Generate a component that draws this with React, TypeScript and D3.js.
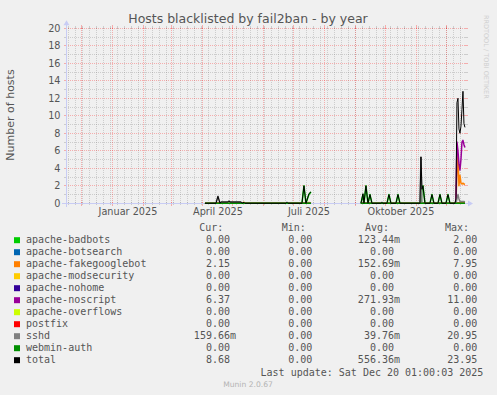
import React from 'react';
import * as d3 from 'd3';

const W = 497;
const H = 395;

const dates = [
  '2025-04-03', '2025-04-14', '2025-04-16', '2025-04-18', '2025-04-19', '2025-04-26', '2025-04-27', '2025-04-28',
  '2025-05-09', '2025-05-10', '2025-05-12', '2025-05-13', '2025-06-23', '2025-06-24', '2025-06-25', '2025-07-09',
  '2025-07-11', '2025-07-13', '2025-07-16', '2025-07-18', '2025-08-10', '2025-09-06', '2025-09-08', '2025-09-09',
  '2025-09-11', '2025-09-13', '2025-09-15', '2025-09-17', '2025-09-26', '2025-09-27', '2025-09-28', '2025-10-02',
  '2025-10-04', '2025-10-06', '2025-10-11', '2025-10-13', '2025-10-15', '2025-11-04', '2025-11-05', '2025-11-06',
  '2025-11-07', '2025-11-09', '2025-11-14', '2025-11-16', '2025-11-18', '2025-11-22', '2025-11-24', '2025-11-26',
  '2025-11-30', '2025-12-02', '2025-12-04', '2025-12-09', '2025-12-10', '2025-12-11', '2025-12-12', '2025-12-13',
  '2025-12-14', '2025-12-15', '2025-12-16', '2025-12-17', '2025-12-18', '2025-12-19',
];

const apacheBadbots = [
  0, 0, 0, 0, 0, 0, 0, 0, 0, 0, 0, 0, 0, 0, 0, 0,
  2.0, 0, 1.0, 1.3, null, 0, 1.0, 0, 2.0, 0, 1.0, 0, 0, 0, 0, 0,
  1.0, 0, 0, 1.0, 0, 0, 0, 1.6, 2.0, 0, 0, 1.0, 0, 0, 1.0, 0,
  0, 1.0, 0, 0, 0, 0, 0, 0, 0, 0, 0, 0, 0, 0,
];
const apacheBotsearch = [
  0, 0, 0, 0, 0, 0, 0, 0, 0, 0, 0, 0, 0, 0, 0, 0,
  0, 0, 0, 0, null, 0, 0, 0, 0, 0, 0, 0, 0, 0, 0, 0,
  0, 0, 0, 0, 0, 0, 0, 0, 0, 0, 0, 0, 0, 0, 0, 0,
  0, 0, 0, 0, 0, 0, 0, 0, 0, 0, 0, 0, 0, 0,
];
const apacheFakegooglebot = [
  0, 0, 0, 0, 0, 0, 0.15, 0, 0, 0, 0.12, 0, 0, 0, 0, 0,
  0, 0, 0.1, 0, null, 0, 0, 0, 0, 0, 0, 0, 0, 0, 0, 0,
  0, 0, 0, 0, 0, 0, 0, 0, 0, 0, 0, 0, 0, 0, 0, 0,
  0, 0, 0, 0, 0.2, 3.5, 5.5, 2.0, 3.2, 2.3, 2.2, 2.3, 2.2, 2.15,
];
const apacheModsecurity = [
  0, 0, 0, 0, 0, 0, 0, 0, 0, 0, 0, 0, 0, 0, 0, 0,
  0, 0, 0, 0, null, 0, 0, 0, 0, 0, 0, 0, 0, 0, 0, 0,
  0, 0, 0, 0, 0, 0, 0, 0, 0, 0, 0, 0, 0, 0, 0, 0,
  0, 0, 0, 0, 0, 0, 0, 0, 0, 0, 0, 0, 0, 0,
];
const apacheNohome = [
  0, 0, 0, 0, 0, 0, 0, 0, 0, 0, 0, 0, 0, 0, 0, 0,
  0, 0, 0, 0, null, 0, 0, 0, 0, 0, 0, 0, 0, 0, 0, 0,
  0, 0, 0, 0, 0, 0, 0, 0, 0, 0, 0, 0, 0, 0, 0, 0,
  0, 0, 0, 0, 0, 0, 0, 0, 0, 0, 0, 0, 0, 0,
];
const apacheNoscript = [
  0, 0, 0, 0, 0, 0, 0, 0, 0, 0, 0, 0, 0, 0, 0, 0,
  0, 0, 0, 0, null, 0, 0.1, 0, 0, 0, 0, 0, 0, 0, 0, 0,
  0, 0, 0, 0, 0, 0, 0, 0, 0, 0, 0, 0, 0, 0, 0, 0,
  0, 0, 0, 0, 0.3, 7.0, 6.0, 4.5, 3.8, 5.0, 7.0, 7.2, 6.7, 6.37,
];
const apacheOverflows = [
  0, 0, 0, 0, 0, 0, 0, 0, 0, 0, 0, 0, 0, 0, 0, 0,
  0, 0, 0, 0, null, 0, 0, 0, 0, 0, 0, 0, 0, 0, 0, 0,
  0, 0, 0, 0, 0, 0, 0, 0, 0, 0, 0, 0, 0, 0, 0, 0,
  0, 0, 0, 0, 0, 0, 0, 0, 0, 0, 0, 0, 0, 0,
];
const postfix = [
  0, 0, 0, 0, 0, 0, 0, 0, 0, 0, 0, 0, 0, 0, 0, 0,
  0, 0, 0, 0, null, 0, 0, 0, 0, 0, 0, 0, 0, 0, 0, 0,
  0, 0, 0, 0, 0, 0, 0, 0, 0, 0, 0, 0, 0, 0, 0, 0,
  0, 0, 0, 0, 0, 0, 0, 0, 0, 0, 0, 0, 0, 0,
];
const sshd = [
  0, 0, 0.8, 0, 0.15, 0.15, 0.15, 0.15, 0.15, 0, 0, 0, 0, 0.12, 0, 0,
  0, 0, 0, 0, null, 0, 0, 0, 0, 0, 0, 0, 0, 0.1, 0, 0,
  0, 0, 0, 0, 0, 0, 5.3, 0, 0, 0, 0, 0, 0, 0, 0, 0,
  0, 0, 0, 0, 0, 0.5, 1.0, 0.5, 0.2, 0.2, 0.2, 0.2, 0.2, 0.16,
];
const webminAuth = [
  0, 0, 0, 0, 0, 0, 0, 0, 0, 0, 0, 0, 0, 0, 0, 0,
  0, 0, 0, 0, null, 0, 0, 0, 0, 0, 0, 0, 0, 0, 0, 0,
  0, 0, 0, 0, 0, 0, 0, 0, 0, 0, 0, 0, 0, 0, 0, 0,
  0, 0, 0, 0, 0, 0, 0, 0, 0, 0, 0, 0, 0, 0,
];
const total = [
  0, 0, 0.8, 0, 0.15, 0.15, 0.3, 0.15, 0.15, 0, 0.12, 0, 0, 0.12, 0, 0,
  2.0, 0, 1.1, 1.3, null, 0, 1.1, 0, 2.0, 0, 1.0, 0, 0, 0.1, 0, 0,
  1.0, 0, 0, 1.0, 0, 0, 5.3, 1.6, 2.0, 0, 0, 1.0, 0, 0, 1.0, 0,
  0, 1.0, 0, 0, 0.5, 11.5, 12.0, 8.5, 8.0, 8.8, 10.7, 12.8, 9.1, 8.68,
];

const seriesNames = [
  'apache-badbots', 'apache-botsearch', 'apache-fakegooglebot', 'apache-modsecurity', 'apache-nohome',
  'apache-noscript', 'apache-overflows', 'postfix', 'sshd', 'webmin-auth', 'total',
];
const seriesValues = [
  apacheBadbots, apacheBotsearch, apacheFakegooglebot, apacheModsecurity, apacheNohome,
  apacheNoscript, apacheOverflows, postfix, sshd, webminAuth, total,
];
const seriesColors = [
  '#00CC00', '#0066B3', '#FF8000', '#FFCC00', '#330099', '#990099', '#CCFF00', '#FF0000', '#808080', '#008F00', '#000000',
];

const curValues = ['0.00', '0.00', '2.15', '0.00', '0.00', '6.37', '0.00', '0.00', '159.66m', '0.00', '8.68'];
const minValues = ['0.00', '0.00', '0.00', '0.00', '0.00', '0.00', '0.00', '0.00', '0.00', '0.00', '0.00'];
const avgValues = ['123.44m', '0.00', '152.69m', '0.00', '0.00', '271.93m', '0.00', '0.00', '39.76m', '0.00', '556.36m'];
const maxValues = ['2.00', '0.00', '7.95', '0.00', '0.00', '11.00', '0.00', '0.00', '20.95', '0.00', '23.95'];

const yTicks = [0, 2, 4, 6, 8, 10, 12, 14, 16, 18, 20];
const yMinor = [1, 3, 5, 7, 9, 11, 13, 15, 17, 19];
const xLabels = [
  { date: '2025-01-16', text: 'Januar 2025' },
  { date: '2025-04-16', text: 'April 2025' },
  { date: '2025-07-16', text: 'Juli 2025' },
  { date: '2025-10-16', text: 'Oktober 2025' },
];

const TITLE = 'Hosts blacklisted by fail2ban - by year';
const Y_LABEL = 'Number of hosts';
const LAST_UPDATE = 'Last update: Sat Dec 20 01:00:03 2025';
const MUNIN = 'Munin 2.0.67';
const WATERMARK = 'RRDTOOL / TOBI OETIKER';

const SANS = "'DejaVu Sans', Verdana, sans-serif";
const MONO = "'DejaVu Sans Mono', monospace";
const TEXT = '#555555';
const AXIS = '#C8CCF4';
const GRID = 'rgba(128,128,128,0.32)';
const MGRID = 'rgba(255,0,0,0.28)';

export default function App() {
  const parse = d3.timeParse('%Y-%m-%d');
  const start = new Date(2024, 10, 15, 1, 0, 0);
  const end = new Date(2025, 11, 20, 1, 0, 0);
  const left = 66;
  const right = 466;
  const bottom = 203.3;
  const top = 28.3;
  const x = d3.scaleTime().domain([start, end]).range([left, right]);
  const y = d3.scaleLinear().domain([0, 20]).range([bottom, top]);
  const px = (v: number) => Math.floor(v) + 0.5;

  const parsed = dates.map((d) => parse(d) as Date);
  const months = d3.timeMonth.range(start, end);
  const weeks = d3.timeMonday.range(start, end);

  const line = d3
    .line<{ t: Date; v: number | null }>()
    .defined((d) => d.v !== null)
    .x((d) => x(d.t))
    .y((d) => y(d.v as number));

  const drawOrder = seriesValues.map((vals, i) => ({
    name: seriesNames[i],
    color: seriesColors[i],
    pts: vals.map((v, j) => ({ t: parsed[j], v })),
  }));

  const rowY0 = 242.7;
  const rowStep = 12;
  const colEnds = [230, 312.3, 394, 477.3];
  const colVals = [curValues, minValues, avgValues, maxValues];
  const headers = [
    { text: 'Cur:', x: 199.3 },
    { text: 'Min:', x: 281.7 },
    { text: 'Avg:', x: 365 },
    { text: 'Max:', x: 445 },
  ];
  const cw = 6.02;

  return (
    <svg
      width={W}
      height={H}
      viewBox={`0 0 ${W} ${H}`}
      style={{ position: 'fixed', left: 0, top: 0, display: 'block' }}
    >
      <rect x={0} y={0} width={W} height={H} fill="#F0F0F0" />

      {/* minor grid */}
      <g shapeRendering="crispEdges">
        {yMinor.map((v) => (
          <line key={'ym' + v} x1={left} x2={right} y1={px(y(v))} y2={px(y(v))} stroke={GRID} strokeDasharray="1,1" />
        ))}
        {weeks.map((w, i) => (
          <line key={'xw' + i} x1={px(x(w))} x2={px(x(w))} y1={top} y2={bottom} stroke={GRID} strokeDasharray="1,1" />
        ))}
        {yMinor.map((v) => (
          <g key={'ymt' + v}>
            <line x1={left - 2} x2={left + 1} y1={px(y(v))} y2={px(y(v))} stroke={GRID} />
            <line x1={right - 1} x2={right + 2} y1={px(y(v))} y2={px(y(v))} stroke={GRID} />
          </g>
        ))}
        {weeks.map((w, i) => (
          <g key={'xwt' + i}>
            <line x1={px(x(w))} x2={px(x(w))} y1={bottom - 1} y2={bottom + 2} stroke={GRID} />
            <line x1={px(x(w))} x2={px(x(w))} y1={top - 2} y2={top + 1} stroke={GRID} />
          </g>
        ))}
        {/* major grid */}
        {yTicks.filter((v) => v > 0).map((v) => (
          <line key={'yM' + v} x1={left} x2={right} y1={px(y(v))} y2={px(y(v))} stroke={MGRID} strokeDasharray="1,1" />
        ))}
        {months.map((m, i) => (
          <line key={'xM' + i} x1={px(x(m))} x2={px(x(m))} y1={top} y2={bottom} stroke={MGRID} strokeDasharray="1,1" />
        ))}
        {yTicks.map((v) => (
          <g key={'yMt' + v}>
            <line x1={left - 2} x2={left + 1} y1={px(y(v))} y2={px(y(v))} stroke={MGRID} />
            <line x1={right - 1} x2={right + 2} y1={px(y(v))} y2={px(y(v))} stroke={MGRID} />
          </g>
        ))}
        {months.map((m, i) => (
          <g key={'xMt' + i}>
            <line x1={px(x(m))} x2={px(x(m))} y1={bottom - 1} y2={bottom + 3} stroke={MGRID} />
            <line x1={px(x(m))} x2={px(x(m))} y1={top - 3} y2={top + 1} stroke={MGRID} />
          </g>
        ))}
      </g>

      {/* axes */}
      <g shapeRendering="crispEdges">
        <line x1={left - 4} x2={right + 3} y1={px(bottom)} y2={px(bottom)} stroke={AXIS} />
        <line x1={left + 0.5} x2={left + 0.5} y1={bottom + 4} y2={top - 4} stroke={AXIS} />
      </g>
      <path d={`M${right + 2},${px(bottom) - 3} L${right + 7},${px(bottom)} L${right + 2},${px(bottom) + 3} Z`} fill={AXIS} />
      <path d={`M${left - 2.5},${top - 3} L${left + 0.5},${top - 8} L${left + 3.5},${top - 3} Z`} fill={AXIS} />

      {/* y tick labels */}
      {yTicks.map((v) => (
        <text key={'yl' + v} x={60.5} y={y(v) + 3.5} textAnchor="end" fontFamily={SANS} fontSize={9.7} fill={TEXT}>
          {v}
        </text>
      ))}
      {/* x labels */}
      {xLabels.map((l) => (
        <text key={l.text} x={x(parse(l.date) as Date)} y={215} textAnchor="middle" fontFamily={SANS} fontSize={9.7} fill={TEXT}>
          {l.text}
        </text>
      ))}

      {/* series lines */}
      <g fill="none" strokeLinejoin="round">
        {drawOrder.map((s) => (
          <path
            key={s.name}
            d={line(s.pts) || ''}
            stroke={s.color}
            strokeWidth={s.name === 'total' ? 1 : 1.5}
          />
        ))}
      </g>

      {/* title */}
      <text x={248} y={23.3} textAnchor="middle" fontFamily={SANS} fontSize={12.5} fill={TEXT}>
        {TITLE}
      </text>
      {/* y axis label */}
      <text
        transform="translate(14,115) rotate(-90)"
        textAnchor="middle"
        fontFamily={SANS}
        fontSize={11}
        fill={TEXT}
      >
        {Y_LABEL}
      </text>
      {/* watermark */}
      <text
        transform="translate(483.5,15) rotate(90)"
        textAnchor="start"
        fontFamily={SANS}
        fontSize={6.5}
        fill="#CFCFCF"
      >
        {WATERMARK}
      </text>

      {/* legend */}
      <g fontFamily={MONO} fontSize={10} fill={TEXT}>
        {headers.map((h) => (
          <text key={h.text} x={h.x} y={230.7}>
            {h.text}
          </text>
        ))}
        {seriesNames.map((n, i) => {
          const yy = rowY0 + i * rowStep;
          return (
            <g key={'lg' + n}>
              <rect x={14} y={yy - 5.5} width={6} height={6} fill={seriesColors[i]} />
              <text x={26} y={yy}>
                {n}
              </text>
              {colVals.map((col, c) => {
                const s = col[i];
                const hasSuffix = /[a-zA-Z]$/.test(s);
                return (
                  <text key={c} x={colEnds[c] + (hasSuffix ? cw : 0)} y={yy} textAnchor="end">
                    {s}
                  </text>
                );
              })}
            </g>
          );
        })}
        <text x={483.3} y={376.3} textAnchor="end">
          {LAST_UPDATE}
        </text>
      </g>
      <text x={248} y={386.7} textAnchor="middle" fontFamily={SANS} fontSize={7.6} fill="#B4B4B4">
        {MUNIN}
      </text>
    </svg>
  );
}
